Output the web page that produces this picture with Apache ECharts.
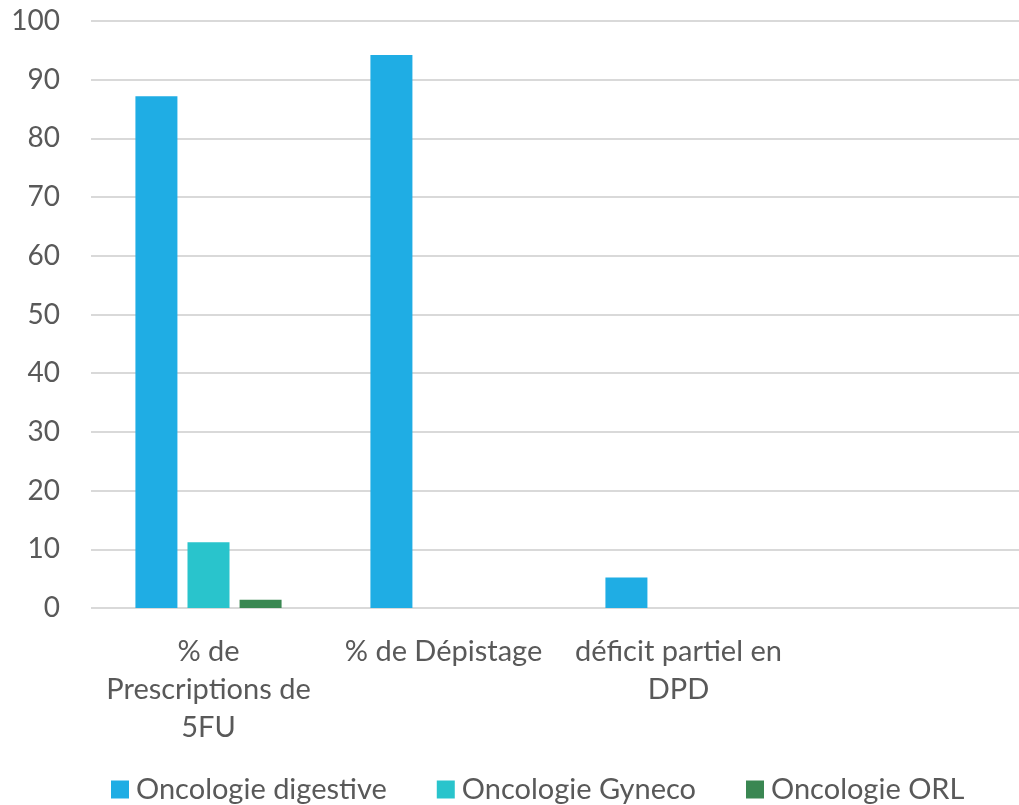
<!DOCTYPE html>
<html>
<head>
<meta charset="utf-8">
<script src="https://cdn.jsdelivr.net/npm/echarts@6/dist/echarts.min.js"></script>
<style>
  html, body { margin: 0; padding: 0; background: #fff; }
  #chart { width: 1019px; height: 805px; }
</style>
</head>
<body>
<div id="chart"></div>
<script>
// Categories and values
const categories = ['% de\nPrescriptions de\n5FU', '% de Dépistage', 'déficit partiel en\nDPD', ''];
const digestive = [87.2, 94.2, 5.2, null];
const gyneco = [11.2, 0, 0, null];
const orl = [1.4, 0, 0, null];
const yTicks = [0, 10, 20, 30, 40, 50, 60, 70, 80, 90, 100];

const textColor = '#595959';
const fontFamily = 'Lato, "Open Sans", sans-serif';

const chart = echarts.init(document.getElementById('chart'));
chart.setOption({
  animation: false,
  textStyle: { fontFamily: fontFamily },
  // plot area runs slightly past the right edge of the canvas
  grid: { left: 91, top: 21, width: 940, height: 587, containLabel: false, outerBoundsMode: 'none' },
  legend: {
    top: 770,
    left: 106,
    itemWidth: 18,
    itemHeight: 18,
    itemGap: 50,
    icon: 'rect',
    textStyle: { color: textColor, fontSize: 29, fontFamily: fontFamily, padding: [0, 0, 0, 2] }
  },
  xAxis: {
    type: 'category',
    data: categories,
    axisLine: { show: false },
    axisTick: { show: false },
    axisLabel: {
      color: textColor,
      fontSize: 29,
      lineHeight: 38,
      margin: 25,
      interval: 0
    }
  },
  yAxis: {
    type: 'value',
    min: yTicks[0],
    max: yTicks[yTicks.length - 1],
    interval: 10,
    axisLine: { show: false },
    axisTick: { show: false },
    axisLabel: { color: textColor, fontSize: 28, margin: 31 },
    splitLine: { lineStyle: { color: '#d9d9d9', width: 2 } }
  },
  series: [
    { name: 'Oncologie digestive', type: 'bar', data: digestive, barWidth: 42, barGap: '24%', itemStyle: { color: '#1fade4' } },
    { name: 'Oncologie Gyneco', type: 'bar', data: gyneco, barWidth: 42, barGap: '24%', itemStyle: { color: '#29c4cc' } },
    { name: 'Oncologie ORL', type: 'bar', data: orl, barWidth: 42, barGap: '24%', itemStyle: { color: '#3a8752' } }
  ]
});
</script>
</body>
</html>
